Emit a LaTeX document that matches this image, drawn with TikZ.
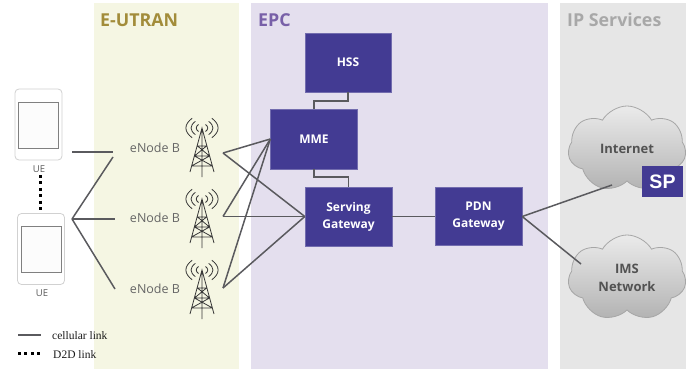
\documentclass[tikz,border=0pt]{standalone}
\usepackage{fontspec}
\setmainfont{Open Sans}
\newfontfamily\legendfont{Liberation Serif}
\newfontfamily\spfont{Liberation Sans}
\usepackage{tikz}
\usetikzlibrary{positioning,shapes.symbols}
\definecolor{boxblue}{HTML}{433B93}
\definecolor{linkgray}{HTML}{5A5A5E}
\definecolor{labelgray}{HTML}{666666}
\definecolor{eutranbg}{HTML}{F5F6E3}
\definecolor{epcbg}{HTML}{E4DFEE}
\definecolor{ipbg}{HTML}{E6E6E6}
\definecolor{eutranhead}{HTML}{A28C3A}
\definecolor{epchead}{HTML}{7860A8}
\definecolor{iphead}{HTML}{A8A8A8}
\tikzset{
    zone/.style={anchor=north west,inner sep=0pt,minimum height=366pt},
    zonetitle/.style={anchor=west,inner sep=0pt,font=\fontsize{17.8}{20}\selectfont\bfseries},
    epcbox/.style={fill=boxblue,draw=boxblue!75,line width=0.4pt,text=white,align=center,inner sep=0pt,
        font=\fontsize{12}{17}\selectfont\bfseries},
    link/.style={draw=linkgray,line width=1.5pt},
    d2d/.style={draw=black,line width=3pt,dash pattern=on 3pt off 3.4pt},
    enb/.style={text=labelgray,inner sep=0pt,font=\fontsize{12.5}{14}\selectfont},
    uebody/.style={draw=black!18,fill=white,rounded corners=4pt,line width=0.8pt,minimum width=47pt,minimum height=71pt,inner sep=0pt},
    uescreen/.style={draw=black!50,fill=black!1,line width=0.8pt,minimum width=40pt,minimum height=46pt,inner sep=0pt},
    uelabel/.style={text=black!65,inner sep=0pt,font=\fontsize{9.5}{10}\selectfont},
    netcloud/.style={cloud,cloud puffs=7,cloud puff arc=120,aspect=1.6,inner sep=0pt,draw=black!35,line width=0.8pt,
        minimum width=118pt,minimum height=86pt,top color=black!8,bottom color=black!30,
        text=black!68,align=center,font=\fontsize{13}{18}\selectfont\bfseries},
    legendtext/.style={anchor=west,inner sep=0pt,text=black!90,font=\legendfont\fontsize{11.5}{12}\selectfont},
    tower/.pic={
        \draw[black!78,line width=0.8pt]
        (-12,44) -- (0,0) -- (12,44) (0,0) -- (0,49)
        (-4.5,18) -- (4.5,18) (-7.5,28) -- (7.5,28) (-10.5,38) -- (10.5,38)
        (-4.5,18) -- (7.5,28) (4.5,18) -- (-7.5,28)
        (-7.5,28) -- (10.5,38) (7.5,28) -- (-10.5,38);
        \foreach \rad in {5,9.5,14}{
            \draw[black!78,line width=0.8pt]
            (-0.7*\rad,-0.7*\rad) .. controls (-1.3*\rad,-0.25*\rad) and (-1.3*\rad,0.25*\rad) .. (-0.7*\rad,0.7*\rad)
            (0.7*\rad,-0.7*\rad) .. controls (1.3*\rad,-0.25*\rad) and (1.3*\rad,0.25*\rad) .. (0.7*\rad,0.7*\rad);
        }
    }
}
\begin{document}
\begin{tikzpicture}[x=1pt,y=-1pt]
    \useasboundingbox (0,0) rectangle (686,369);
    % zones
    \node[zone,fill=eutranbg,minimum width=145pt] at (94,3) (eutranzone) {};
    \node[zone,fill=epcbg,minimum width=297pt] at (251,3) (epczone) {};
    \node[zone,fill=ipbg,minimum width=126pt] at (560,3) (ipzone) {};
    \node[zonetitle,text=eutranhead] at (100,20) (eutrantitle) {E-UTRAN};
    \node[zonetitle,text=epchead] at (258,20) (epctitle) {EPC};
    \node[zonetitle,text=iphead] at (567,20) (iptitle) {IP Services};
    % user equipment
    \node[uebody] at (38.5,124.5) (ue1) {};
    \node[uescreen] at (38,125) (ue1screen) {};
    \node[uelabel] at (39,169) (ue1label) {UE};
    \node[uebody] at (41,249) (ue2) {};
    \node[uescreen] at (41,249) (ue2screen) {};
    \node[uelabel] at (42,293) (ue2label) {UE};
    \coordinate (d2dtop) at (40,175);
    \draw[d2d] (d2dtop) -- (d2dtop |- ue2.north);
    % enodeb
    \node[enb] at (155,148) (enb1) {eNode B};
    \node[enb] at (155,218) (enb2) {eNode B};
    \node[enb] at (155,289) (enb3) {eNode B};
    \pic at (202,128) {tower};
    \pic at (202,199) {tower};
    \pic at (202,270) {tower};
    \coordinate (ue1out) at (72,152);
    \coordinate (ue2out) at (72,219);
    \coordinate (enb1in) at (113,152);
    \coordinate (enb1low) at (113,157);
    \coordinate (enb2in) at (115,219);
    \coordinate (enb3in) at (115,289);
    \coordinate (twr1) at (223,153);
    \coordinate (twr2) at (223,216.5);
    \coordinate (twr3) at (223,288);
    % core
    \node[epcbox,minimum width=86pt,minimum height=59pt] at (348,62.5) (hss) {HSS};
    \node[epcbox,minimum width=87pt,minimum height=60pt] at (314,139) (mme) {MME};
    \node[epcbox,minimum width=87pt,minimum height=59pt] at (348.5,216.5) (sgw) {Serving\\Gateway};
    \node[epcbox,minimum width=87pt,minimum height=58pt] at (478.5,216.5) (pdn) {PDN\\Gateway};
    % clouds
    \node[netcloud] at (627,149) (internet) {Internet};
    \node[netcloud] at (627,278) (ims) {IMS\\Network};
    \node[fill=boxblue,text=white,inner sep=0pt,minimum width=41pt,minimum height=31pt,
        font=\spfont\fontsize{19.5}{20}\selectfont\bfseries] at (662.5,181.5) (sp) {SP};
    \coordinate (inetin) at (612,185);
    \coordinate (imsin) at (581,264);
    % links
    \path[link]
    (ue1out) edge (enb1in)
    (ue2out) edge (enb1low)
    (ue2out) edge (enb2in)
    (ue2out) edge (enb3in)
    (twr1) edge (mme.west)
    (twr1) edge (sgw.west)
    (twr2) edge (mme.west)
    (twr2) edge (sgw.west)
    (twr3) edge (mme.west)
    (twr3) edge (sgw.west)
    (sgw.east) edge (pdn.west)
    (pdn.east) edge (inetin)
    (pdn.east) edge (imsin)
    ;
    \draw[link] (hss.south) -- ++(0,9) -| (mme.north);
    \draw[link] (mme.south) -- ++(0,8) -| (sgw.north);
    % legend
    \coordinate (leg1a) at (18,335);
    \coordinate (leg1b) at (41,335);
    \coordinate (leg2a) at (18,353);
    \coordinate (leg2b) at (41,353);
    \draw[link] (leg1a) -- (leg1b);
    \draw[d2d] (leg2a) -- (leg2b);
    \node[legendtext] at (52,336) (leg1) {cellular link};
    \node[legendtext] at (53,355) (leg2) {D2D link};
\end{tikzpicture}
\end{document}
